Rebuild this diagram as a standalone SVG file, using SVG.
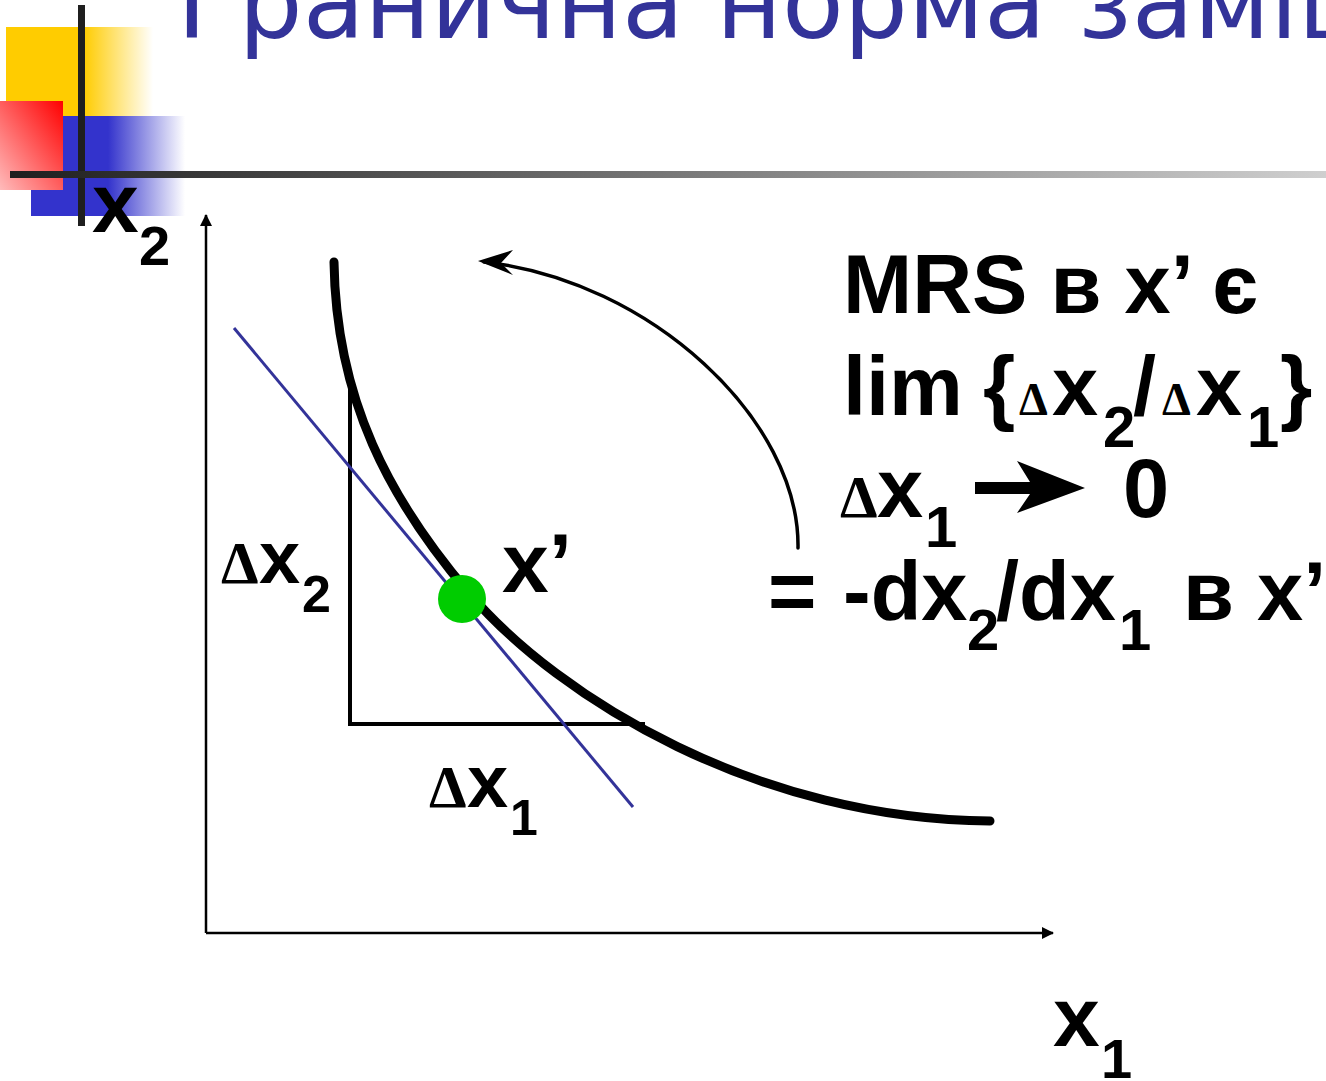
<svg xmlns="http://www.w3.org/2000/svg" width="1326" height="1081" viewBox="0 0 1326 1081">
<style>
.b{font-family:"Liberation Sans",Arial,sans-serif;font-weight:bold;fill:#000}
.d{font-family:"Liberation Serif","Times New Roman",serif;fill:#000}
.title{font-family:"DejaVu Sans",Verdana,sans-serif;fill:#333399;font-size:101px}
.thin{fill:none;stroke:#000;stroke-width:2.5}
</style>
<defs>
<linearGradient id="gy" x1="0" y1="0" x2="1" y2="0">
<stop offset="0" stop-color="#FFCC00"/><stop offset="0.53" stop-color="#FFCC00"/><stop offset="1" stop-color="#FFCC00" stop-opacity="0"/>
</linearGradient>
<linearGradient id="gb" x1="0" y1="0" x2="1" y2="0">
<stop offset="0" stop-color="#3333CC"/><stop offset="0.5" stop-color="#3333CC"/><stop offset="1" stop-color="#3333CC" stop-opacity="0"/>
</linearGradient>
<linearGradient id="gr" x1="1" y1="0" x2="0" y2="1">
<stop offset="0" stop-color="#FF0000"/><stop offset="1" stop-color="#FFBBBB"/>
</linearGradient>
<linearGradient id="gl" gradientUnits="userSpaceOnUse" x1="10" y1="0" x2="1326" y2="0">
<stop offset="0" stop-color="#1F1F1F"/><stop offset="1" stop-color="#CFCFCF"/>
</linearGradient>
<marker id="ah" viewBox="0 0 12 12" refX="11" refY="6" markerWidth="12" markerHeight="12" markerUnits="userSpaceOnUse" orient="auto">
<path d="M0,0 L12,6 L0,12 z" fill="#000"/>
</marker>
</defs>

<g id="decor">
<rect x="6" y="27" width="147" height="89" fill="url(#gy)"/>
<rect x="31" y="116" width="154" height="100" fill="url(#gb)"/>
<rect x="0" y="101" width="63" height="89" fill="url(#gr)"/>
<line x1="81.5" y1="5" x2="81.5" y2="226" stroke="#1F1F1F" stroke-width="7"/>
<line x1="10" y1="174.5" x2="1326" y2="174.5" stroke="url(#gl)" stroke-width="7"/>
</g>

<text id="title" class="title" x="177" y="38">Гранична норма заміщення</text>

<g id="axes">
<line class="thin" x1="206" y1="933" x2="206" y2="215" marker-end="url(#ah)"/>
<line class="thin" x1="206" y1="933" x2="1053" y2="933" marker-end="url(#ah)"/>
</g>

<g id="connectors">
<path d="M798,548 C800,420 650,280 484,262" fill="none" stroke="#000" stroke-width="3.5" stroke-linecap="round"/>
<path d="M478,261 L513,250 L501,263 L513,275 Z" fill="#000"/>
</g>

<g id="triangle">
<path d="M350,377 L350,724 L645,724" fill="none" stroke="#000" stroke-width="4"/>
</g>

<g id="tangent">
<line x1="234" y1="328" x2="633" y2="807" stroke="#333399" stroke-width="3"/>
</g>

<g id="curve">
<path d="M334,262 C336,400 390,500 468,592 C560,700 760,820 990,821" fill="none" stroke="#000" stroke-width="9" stroke-linecap="round"/>
</g>

<g id="point">
<circle cx="462" cy="599" r="24" fill="#00CC00"/>
</g>

<g id="labels">
<text class="b" x="92" y="232" font-size="84">x<tspan font-size="56" x="139" y="265">2</tspan></text>
<text class="b" x="1053" y="1046" font-size="84">x<tspan font-size="56" x="1101" y="1078">1</tspan></text>
<text x="221" y="583"><tspan class="d" font-size="60" font-weight="bold">Δ</tspan><tspan class="b" font-size="74" x="259">x</tspan><tspan class="b" font-size="52" x="302" y="612">2</tspan></text>
<text class="b" x="502" y="592" font-size="84">x’</text>
<text x="429" y="807"><tspan class="d" font-size="60" font-weight="bold">Δ</tspan><tspan class="b" font-size="74" x="467">x</tspan><tspan class="b" font-size="50" x="510" y="835">1</tspan></text>
</g>

<g id="formula">
<text class="b" x="843" y="313" font-size="83">MRS в x’ є</text>
<text class="b" font-size="83" y="415"><tspan x="843">lim</tspan><tspan x="983">{</tspan><tspan class="d" font-size="46" x="1019">Δ</tspan><tspan x="1052">x</tspan><tspan font-size="58" x="1103" y="447">2</tspan><tspan x="1133" y="415">/</tspan><tspan class="d" font-size="46" x="1162">Δ</tspan><tspan x="1196">x</tspan><tspan font-size="58" x="1247" y="447">1</tspan><tspan x="1280" y="415">}</tspan></text>
<text y="517"><tspan class="d" font-size="60" font-weight="bold" x="840">Δ</tspan><tspan class="b" font-size="83" x="877">x</tspan><tspan class="b" font-size="58" x="925" y="547">1</tspan><tspan class="b" font-size="83" x="1123" y="517">0</tspan></text>
<path d="M975,482 L1030,482 L1017,461 L1085,488 L1017,513 L1030,494 L975,494 Z" fill="#000"/>
<text class="b" font-size="83" y="620"><tspan x="768">=</tspan><tspan x="843">-dx</tspan><tspan font-size="58" x="967" y="650">2</tspan><tspan x="996" y="620">/dx</tspan><tspan font-size="58" x="1119" y="650">1</tspan><tspan x="1183" y="620">в x’</tspan></text>
</g>
</svg>
